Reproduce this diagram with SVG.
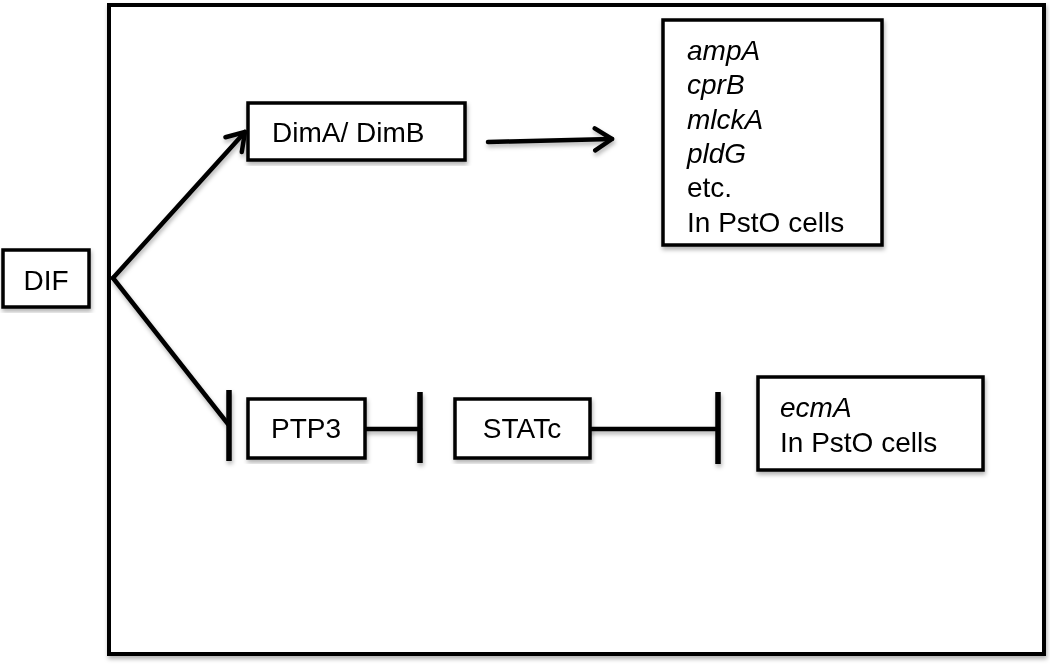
<svg xmlns="http://www.w3.org/2000/svg" width="1050" height="664" viewBox="0 0 1050 664">
<defs>
<filter id="sh" x="-5%" y="-5%" width="115%" height="115%">
<feDropShadow dx="1" dy="3" stdDeviation="2" flood-color="#000" flood-opacity="0.3"/>
</filter>
<marker id="arr" viewBox="0 0 24 28" refX="21" refY="14" markerWidth="24" markerHeight="28" markerUnits="userSpaceOnUse" orient="auto">
<path d="M4,3 L21,14 L4,25" fill="none" stroke="#000" stroke-width="4.5" stroke-linecap="round" stroke-linejoin="round"/>
</marker>
</defs>
<style>
.box{fill:#fff;stroke:#000;stroke-width:3.5}
.frame{fill:#fff;stroke:#000;stroke-width:4}
.t{font-family:"Liberation Sans",Arial,sans-serif;font-size:28px;fill:#000}
.i{font-style:italic}
.ln{fill:none;stroke:#000;stroke-width:4.5;stroke-linecap:round}
.bar{fill:none;stroke:#000;stroke-width:5.5}
</style>
<rect width="1050" height="664" fill="#fff"/>
<g id="frame" filter="url(#sh)">
<rect class="frame" x="109" y="5" width="935" height="649"/>
</g>
<g id="connectors" filter="url(#sh)">
<line class="ln" x1="113" y1="278" x2="245" y2="132" marker-end="url(#arr)"/>
<line class="ln" x1="113" y1="278" x2="228" y2="424"/>
<line class="bar" x1="229" y1="390" x2="229" y2="461"/>
<line class="ln" x1="488" y1="142" x2="612" y2="139" marker-end="url(#arr)"/>
<line class="ln" x1="365" y1="429" x2="420" y2="429"/>
<line class="bar" x1="420" y1="392" x2="420" y2="463"/>
<line class="ln" x1="590" y1="429" x2="718" y2="429"/>
<line class="bar" x1="718" y1="392" x2="718" y2="464"/>
</g>
<g id="dif" filter="url(#sh)">
<rect class="box" x="3" y="250" width="86" height="57"/>
<text class="t" x="46" y="290" text-anchor="middle">DIF</text>
</g>
<g id="dim" filter="url(#sh)">
<rect class="box" x="248" y="103" width="217" height="57"/>
<text class="t" x="272" y="142">DimA/ DimB</text>
</g>
<g id="genes" filter="url(#sh)">
<rect class="box" x="663" y="20" width="219" height="225"/>
<text class="t i" x="687" y="60">ampA</text>
<text class="t i" x="687" y="94">cprB</text>
<text class="t i" x="687" y="129">mlckA</text>
<text class="t i" x="687" y="163">pldG</text>
<text class="t" x="687" y="197">etc.</text>
<text class="t" x="687" y="232">In PstO cells</text>
</g>
<g id="ptp3" filter="url(#sh)">
<rect class="box" x="248" y="399" width="117" height="59"/>
<text class="t" x="306" y="438" text-anchor="middle">PTP3</text>
</g>
<g id="statc" filter="url(#sh)">
<rect class="box" x="455" y="399" width="135" height="59"/>
<text class="t" x="522" y="438" text-anchor="middle">STATc</text>
</g>
<g id="ecma" filter="url(#sh)">
<rect class="box" x="758" y="377" width="225" height="93"/>
<text class="t i" x="780" y="417">ecmA</text>
<text class="t" x="780" y="452">In PstO cells</text>
</g>
</svg>
